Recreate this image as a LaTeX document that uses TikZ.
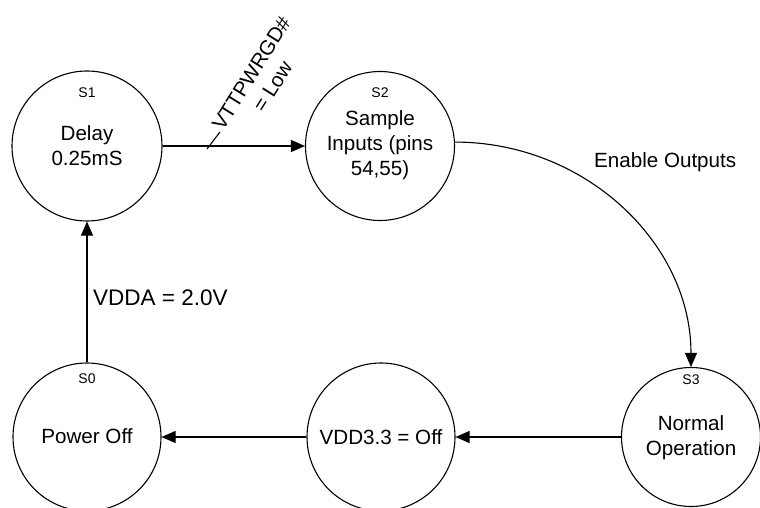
\documentclass[tikz,border=0pt]{standalone}
\usepackage{fontspec}
\setmainfont{Liberation Sans}
\usetikzlibrary{arrows.meta}
\begin{document}
\begin{tikzpicture}[x=1pt,y=-1pt,
  state/.style={draw,circle,line width=1.1pt,inner sep=0pt},
  tag/.style={font=\fontsize{14}{16}\selectfont,inner sep=0pt},
  txt/.style={font=\fontsize{20.6}{25}\selectfont,align=center,inner sep=0pt},
  link/.style={line width=1.1pt,-{Triangle[length=14pt,width=12pt]}}]
\useasboundingbox (0,0) rectangle (760,508);

% states
\node[state,minimum size=150pt] (s1) at (87,146) {};
\node[state,minimum size=149pt] (s2) at (380,146) {};
\node[state,minimum size=139pt] (s3) at (691,437) {};
\node[state,minimum size=148pt] (s0) at (87,437) {};
\node[state,minimum size=148pt] (off) at (381,437) {};

% state tags
\node[tag] (t1) at (87,93) {S1};
\node[tag] (t2) at (380,93) {S2};
\node[tag] (t3) at (691,380) {S3};
\node[tag] (t0) at (87,379) {S0};

% state texts
\node[txt] (d1) at (87,146) {Delay\\0.25mS};
\node[txt] (d2) at (380,145) {Sample\\Inputs (pins\\54,55)};
\node[txt] (d3) at (691,438) {Normal\\Operation};
\node[txt] (d0) at (87,436) {Power Off};
\node[txt] (doff) at (381,437) {VDD3.3 = Off};

% transitions
\draw[link] (s1) -- (s2);
\draw[link] (s2.3) .. controls +(130,0) and +(0,-124) .. (s3.north);
\draw[link] (s3) -- (off);
\draw[link] (off) -- (s0);
\draw[link] (s0) -- (s1);

% transition labels
\coordinate (k1) at (207,149);
\coordinate (k2) at (220,132);
\draw[line width=1.1pt] (k1) -- (k2);
\node[txt,rotate=58] (l1) at (262,80) {VTTPWRGD\#\\= Low};
\node[txt,anchor=west] (l2) at (594,162) {Enable Outputs};
\node[txt,anchor=west,font=\fontsize{22.5}{27}\selectfont] (l3) at (93,298) {VDDA = 2.0V};
\end{tikzpicture}
\end{document}
